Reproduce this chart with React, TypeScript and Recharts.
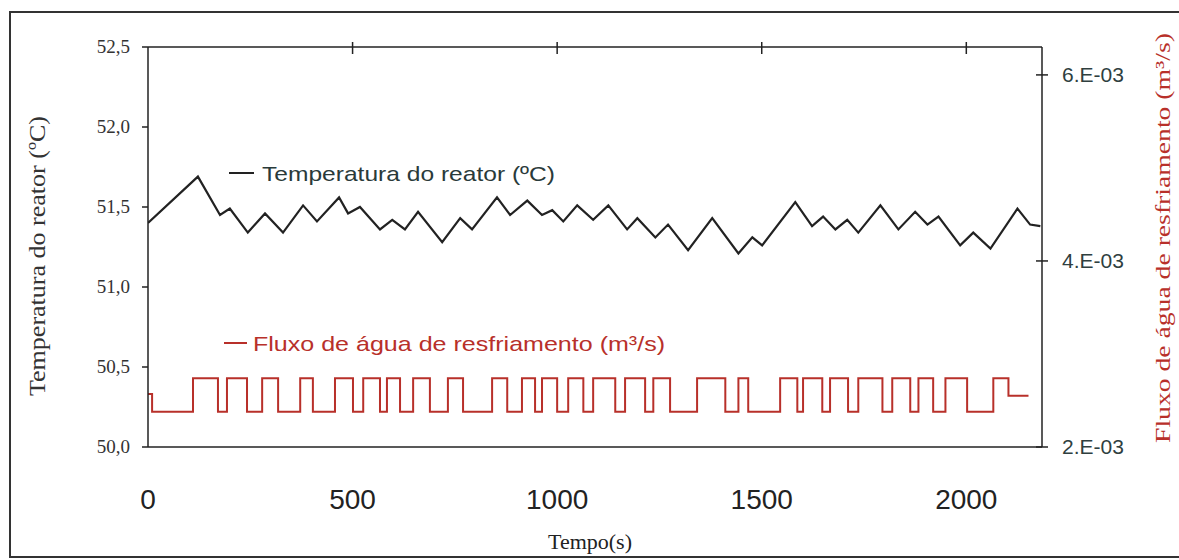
import React from 'react';
import { LineChart, Line, XAxis, YAxis } from 'recharts';

// Temperatura do reator (ºC)
const tempTime = [0, 122, 176, 200, 244, 286, 330, 379, 413, 467, 489, 518, 567, 597, 628, 660, 719, 763, 792, 853, 885, 927, 963, 988, 1015, 1049, 1088, 1125, 1171, 1196, 1240, 1271, 1320, 1379, 1443, 1477, 1501, 1582, 1623, 1650, 1680, 1709, 1736, 1790, 1834, 1875, 1905, 1932, 1985, 2017, 2059, 2125, 2156, 2181];
const tempValue = [51.4, 51.69, 51.45, 51.49, 51.34, 51.46, 51.34, 51.51, 51.41, 51.56, 51.46, 51.5, 51.36, 51.42, 51.36, 51.47, 51.28, 51.43, 51.36, 51.56, 51.45, 51.54, 51.45, 51.48, 51.41, 51.51, 51.42, 51.51, 51.36, 51.43, 51.31, 51.39, 51.23, 51.43, 51.21, 51.31, 51.26, 51.53, 51.38, 51.44, 51.36, 51.42, 51.34, 51.51, 51.36, 51.47, 51.39, 51.44, 51.26, 51.34, 51.24, 51.49, 51.39, 51.38];

// Fluxo de água de resfriamento (m³/s), instantes em que o valor muda
const flowTime = [0, 10, 110, 171, 193, 242, 279, 318, 372, 403, 457, 501, 526, 567, 584, 616, 648, 689, 733, 770, 841, 878, 914, 946, 963, 1000, 1027, 1064, 1088, 1142, 1166, 1215, 1235, 1276, 1342, 1411, 1443, 1467, 1545, 1587, 1601, 1648, 1667, 1711, 1736, 1795, 1819, 1863, 1883, 1919, 1949, 2002, 2066, 2103, 2152];
const flowValue = [0.00257, 0.00238, 0.00274, 0.00238, 0.00274, 0.00238, 0.00274, 0.00238, 0.00274, 0.00238, 0.00274, 0.00238, 0.00274, 0.00238, 0.00274, 0.00238, 0.00274, 0.00238, 0.00274, 0.00238, 0.00274, 0.00238, 0.00274, 0.00238, 0.00274, 0.00238, 0.00274, 0.00238, 0.00274, 0.00238, 0.00274, 0.00238, 0.00274, 0.00238, 0.00274, 0.00238, 0.00274, 0.00238, 0.00274, 0.00238, 0.00274, 0.00238, 0.00274, 0.00238, 0.00274, 0.00238, 0.00274, 0.00238, 0.00274, 0.00238, 0.00274, 0.00238, 0.00274, 0.00255, 0.00255];

const xTicks = [0, 500, 1000, 1500, 2000];
const leftTicks = [50, 50.5, 51, 51.5, 52, 52.5];
const rightTicks = [0.002, 0.004, 0.006];

const tempData = tempTime.map((t, i) => ({ t, temp: tempValue[i] }));
const flowData = flowTime.map((t, i) => ({ t, flow: flowValue[i] }));

const RED = '#b8302a';
const INK = '#222';
const SERIF = 'Liberation Serif, DejaVu Serif, serif';
const SANS = 'Liberation Sans, Arial, sans-serif';

const fmtLeft = (v: number) => v.toFixed(1).replace('.', ',');
const fmtRight = (v: number) => `${Math.round(v * 1000)}.E-03`;

// marcas que cruzam o eixo superior (y recebido = linha do eixo - 1)
const TopTick = ({ x, y, payload }: any) =>
  payload.value === 0 ? null : <line x1={x} y1={y - 5} x2={x} y2={y + 7} stroke={INK} strokeWidth={1.5} />;

const LeftTick = ({ x, y, payload }: any) => (
  <text x={x} y={y} dy={6} textAnchor="end" fontFamily={SERIF} fontSize={19} fill="#333">
    {fmtLeft(payload.value)}
  </text>
);

const RightTick = ({ x, y, payload }: any) => (
  <g>
    <line x1={x - 6} y1={y} x2={x + 6} y2={y} stroke={INK} strokeWidth={1.5} />
    <text x={x + 20} y={y} dy={7} textAnchor="start" fontFamily={SANS} fontSize={21} fill="#2f3f3f">
      {fmtRight(payload.value)}
    </text>
  </g>
);

const BottomTick = ({ x, y, payload }: any) => (
  <text x={x} y={y} dy={20} textAnchor="middle" fontFamily={SANS} fontSize={28} fill={INK}>
    {payload.value}
  </text>
);

export default function App() {
  return (
    <div style={{ position: 'absolute', left: 0, top: 0, width: 1179, height: 560, background: '#fff', overflow: 'hidden' }}>
      {/* moldura da figura */}
      <div style={{ position: 'absolute', left: 9, top: 11, width: 1180, height: 543, border: '2px solid #333' }} />
      <div style={{ position: 'absolute', left: 0, top: 0 }}>
        <LineChart width={1179} height={560} margin={{ top: 46, right: 57, bottom: 53, left: 68 }}>
          <XAxis
            xAxisId="b"
            dataKey="t"
            type="number"
            domain={[0, 2185]}
            ticks={xTicks}
            allowDataOverflow
            tickLine={false}
            tickSize={0}
            tickMargin={42}
            height={60}
            stroke={INK}
            strokeWidth={1.5}
            tick={<BottomTick />}
          />
          <XAxis
            xAxisId="top"
            orientation="top"
            dataKey="t"
            type="number"
            domain={[0, 2185]}
            ticks={xTicks}
            allowDataOverflow
            height={1}
            tickLine={false}
            tickSize={0}
            tickMargin={0}
            stroke={INK}
            strokeWidth={1.5}
            tick={<TopTick />}
          />
          <YAxis
            yAxisId="left"
            domain={[50, 52.5]}
            ticks={leftTicks}
            allowDataOverflow
            width={80}
            tickSize={6}
            tickMargin={12}
            stroke={INK}
            strokeWidth={1.5}
            tick={<LeftTick />}
          />
          <YAxis
            yAxisId="right"
            orientation="right"
            domain={[0.002, 0.0063]}
            ticks={rightTicks}
            allowDataOverflow
            width={80}
            tickLine={false}
            tickSize={0}
            tickMargin={0}
            stroke={INK}
            strokeWidth={1.5}
            tick={<RightTick />}
          />
          <Line
            data={tempData}
            xAxisId="top"
            yAxisId="left"
            dataKey="temp"
            type="linear"
            stroke={INK}
            strokeWidth={2.2}
            dot={false}
            isAnimationActive={false}
          />
          <Line
            data={flowData}
            xAxisId="b"
            yAxisId="right"
            dataKey="flow"
            type="stepAfter"
            stroke={RED}
            strokeWidth={2}
            dot={false}
            isAnimationActive={false}
          />

          {/* legendas internas */}
          <line x1={229} y1={173} x2={254} y2={173} stroke={INK} strokeWidth={2} />
          <text x={262} y={181} fontFamily={SANS} fontSize={21} fill="#2a3a3a" textLength={293} lengthAdjust="spacingAndGlyphs">
            Temperatura do reator (ºC)
          </text>
          <line x1={224} y1={343} x2={247} y2={343} stroke={RED} strokeWidth={2} />
          <text x={253} y={351} fontFamily={SANS} fontSize={21} fill={RED} textLength={412} lengthAdjust="spacingAndGlyphs">
            Fluxo de água de resfriamento (m³/s)
          </text>

          {/* títulos dos eixos */}
          <text x={590} y={549} textAnchor="middle" fontFamily={SERIF} fontSize={22} fill={INK}>
            Tempo(s)
          </text>
          <text
            transform="translate(45, 256) rotate(-90)"
            textAnchor="middle"
            fontFamily={SERIF}
            fontSize={23}
            fill="#333"
            textLength={280}
            lengthAdjust="spacingAndGlyphs"
          >
            Temperatura do reator (ºC)
          </text>
          <text
            transform="translate(1170, 238) rotate(-90)"
            textAnchor="middle"
            fontFamily={SERIF}
            fontSize={22}
            fill={RED}
            textLength={410}
            lengthAdjust="spacingAndGlyphs"
          >
            Fluxo de água de resfriamento (m³/s)
          </text>
        </LineChart>
      </div>
    </div>
  );
}
